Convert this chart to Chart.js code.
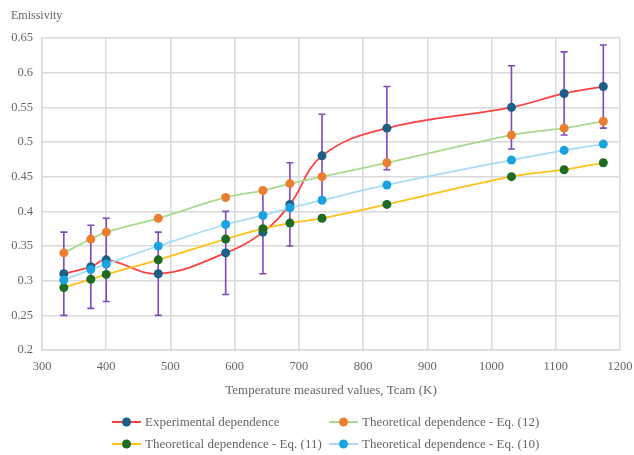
<!DOCTYPE html>
<html>
<head>
<meta charset="utf-8">
<script src="https://cdn.jsdelivr.net/npm/chart.js@4.4.0/dist/chart.umd.min.js"></script>
<style>
  body { margin: 0; background: #fff; }
  canvas { display: block; }
</style>
</head>
<body>
<canvas id="myChart" width="634" height="455"></canvas>
<script>
// temperatures (K)
var temps = [334, 376, 400, 481, 586, 644, 686, 736, 837, 1031, 1113, 1174];
var experimental = [0.31, 0.32, 0.33, 0.31, 0.34, 0.37, 0.41, 0.48, 0.52, 0.55, 0.57, 0.58];
var expError = [0.06, 0.06, 0.06, 0.06, 0.06, 0.06, 0.06, 0.06, 0.06, 0.06, 0.06, 0.06];
var eq12 = [0.34, 0.36, 0.37, 0.39, 0.42, 0.43, 0.44, 0.45, 0.47, 0.51, 0.52, 0.53];
var eq11 = [0.29, 0.302, 0.309, 0.33, 0.36, 0.375, 0.383, 0.39, 0.41, 0.45, 0.46, 0.47];
var eq10 = [0.301, 0.316, 0.324, 0.35, 0.381, 0.394, 0.405, 0.416, 0.438, 0.474, 0.488, 0.497];
var seriesNames = [
  'Experimental dependence',
  'Theoretical dependence - Eq. (12)',
  'Theoretical dependence - Eq. (11)',
  'Theoretical dependence - Eq. (10)'
];

var textColor = '#666666';
var gridColor = '#d9d9d9';
var serif = "'Liberation Serif', 'Times New Roman', serif";

function points(ys) {
  var out = [];
  for (var i = 0; i < temps.length; i++) {
    out.push({ x: temps[i], y: ys[i] });
  }
  return out;
}

function series(label, ys, lineColor, dotColor, order) {
  return {
    label: label,
    data: points(ys),
    borderColor: lineColor,
    backgroundColor: dotColor,
    pointBackgroundColor: dotColor,
    pointBorderColor: dotColor,
    pointRadius: 4.5,
    pointBorderWidth: 0,
    borderWidth: 1.8,
    tension: 0.4,
    order: order
  };
}

var datasets = [
  series(seriesNames[0], experimental, '#ff4040', '#1b5e86', 4),
  series(seriesNames[1], eq12, '#a9da8c', '#ed7d31', 3),
  series(seriesNames[2], eq11, '#ffc21a', '#1e6b22', 2),
  series(seriesNames[3], eq10, '#a8dcf4', '#1ba3e0', 1)
];

// error bars on the experimental series, drawn under the markers
var errorBarPlugin = {
  id: 'errorBars',
  beforeDatasetsDraw: function(chart) {
    var ctx = chart.ctx;
    var xs = chart.scales.x, ys = chart.scales.y;
    ctx.save();
    ctx.strokeStyle = '#8148bb';
    ctx.lineWidth = 1.6;
    for (var i = 0; i < temps.length; i++) {
      var px = xs.getPixelForValue(temps[i]);
      var top = ys.getPixelForValue(experimental[i] + expError[i]);
      var bot = ys.getPixelForValue(experimental[i] - expError[i]);
      ctx.beginPath();
      ctx.moveTo(px, top); ctx.lineTo(px, bot);
      ctx.moveTo(px - 3.5, top); ctx.lineTo(px + 3.5, top);
      ctx.moveTo(px - 3.5, bot); ctx.lineTo(px + 3.5, bot);
      ctx.stroke();
    }
    ctx.restore();
  }
};

// axis caption at the top left and the two-column legend at the bottom
var extrasPlugin = {
  id: 'extras',
  afterDraw: function(chart) {
    var ctx = chart.ctx;
    ctx.save();
    ctx.fillStyle = textColor;
    ctx.font = '12px ' + serif;
    ctx.textBaseline = 'middle';
    ctx.textAlign = 'left';
    ctx.fillText('Emissivity', 11, 16);

    var cols = [112, 329];
    var rows = [422, 444];
    ctx.font = '13px ' + serif;
    for (var i = 0; i < datasets.length; i++) {
      var lx = cols[i % 2];
      var ly = rows[Math.floor(i / 2)];
      var ds = datasets[i];
      ctx.strokeStyle = ds.borderColor;
      ctx.lineWidth = 2;
      ctx.beginPath();
      ctx.moveTo(lx, ly); ctx.lineTo(lx + 29, ly);
      ctx.stroke();
      ctx.fillStyle = ds.pointBackgroundColor;
      ctx.beginPath();
      ctx.arc(lx + 14.5, ly, 4.5, 0, Math.PI * 2);
      ctx.fill();
      ctx.fillStyle = textColor;
      ctx.fillText(ds.label, lx + 33, ly + 1);
    }
    ctx.restore();
  }
};

var ctx = document.getElementById('myChart').getContext('2d');
var myChart = new Chart(ctx, {
  type: 'line',
  data: { datasets: datasets },
  plugins: [errorBarPlugin, extrasPlugin],
  options: {
    responsive: false,
    animation: false,
    devicePixelRatio: 1,
    layout: { padding: { top: 38, right: 14, bottom: 57, left: 0 } },
    plugins: {
      legend: { display: false },
      tooltip: { enabled: false }
    },
    scales: {
      x: {
        type: 'linear',
        min: 300,
        max: 1200,
        ticks: {
          stepSize: 100,
          color: textColor,
          font: { family: serif, size: 12.5 },
          padding: 9,
          maxRotation: 0,
          callback: function(v) { return String(v); }
        },
        grid: { color: gridColor, lineWidth: 1.5, drawTicks: false },
        border: { color: gridColor, width: 1.5 },
        title: {
          display: true,
          text: 'Temperature measured values, Tcam (K)',
          color: textColor,
          font: { family: serif, size: 13 },
          padding: { top: 4, bottom: 0 }
        },
        afterFit: function(scale) {
          scale.height = 48;
          scale.paddingLeft = 0;
          scale.paddingRight = 0;
        }
      },
      y: {
        min: 0.2,
        max: 0.65,
        ticks: {
          stepSize: 0.05,
          color: textColor,
          font: { family: serif, size: 12.5 },
          padding: 9,
          callback: function(v) { return String(+v.toFixed(2)); }
        },
        grid: { color: gridColor, lineWidth: 1.5, drawTicks: false },
        border: { color: gridColor, width: 1.5 },
        afterFit: function(scale) {
          scale.width = 42;
          scale.paddingTop = 0;
          scale.paddingBottom = 0;
        }
      }
    }
  }
});
</script>
</body>
</html>
